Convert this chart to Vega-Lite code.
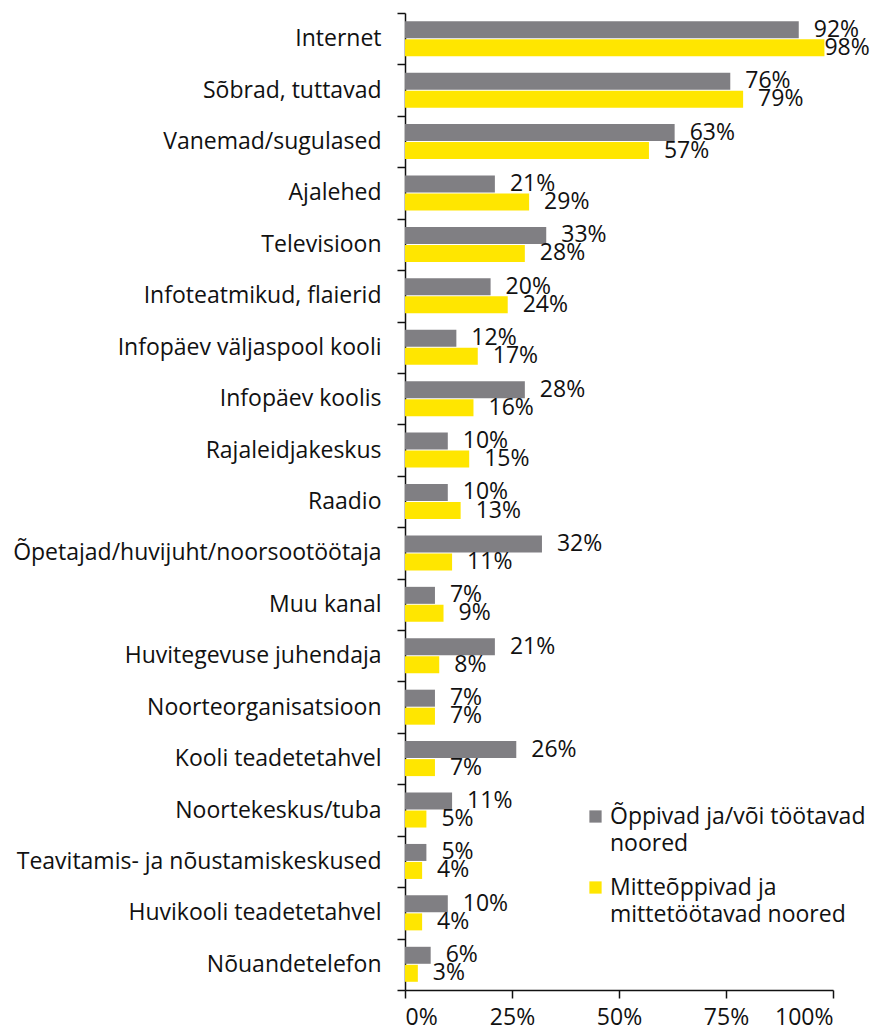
{
  "$schema": "https://vega.github.io/schema/vega-lite/v6.json",
  "width": 428,
  "height": 977,
  "autosize": {"type": "none"},
  "padding": {"left": 405, "top": 13, "right": 41, "bottom": 42},
  "background": "white",
  "config": {
    "view": {"stroke": null},
    "font": "Open Sans",
    "axis": {"labelFont": "Open Sans", "labelColor": "#111", "domainColor": "#111", "tickColor": "#111", "domainWidth": 1.5, "tickWidth": 1.5, "grid": false, "title": null},
    "legend": {"labelFont": "Open Sans", "labelColor": "#111"},
    "style": {"guide-label": {"lineHeight": 27}}
  },
  "data": {
    "values": [
      {"cat": "Internet", "group": "Õppivad ja/või töötavad noored", "pct": 92, "label": "92%"},
      {"cat": "Internet", "group": "Mitteõppivad ja mittetöötavad noored", "pct": 98, "label": "98%"},
      {"cat": "Sõbrad, tuttavad", "group": "Õppivad ja/või töötavad noored", "pct": 76, "label": "76%"},
      {"cat": "Sõbrad, tuttavad", "group": "Mitteõppivad ja mittetöötavad noored", "pct": 79, "label": "79%"},
      {"cat": "Vanemad/sugulased", "group": "Õppivad ja/või töötavad noored", "pct": 63, "label": "63%"},
      {"cat": "Vanemad/sugulased", "group": "Mitteõppivad ja mittetöötavad noored", "pct": 57, "label": "57%"},
      {"cat": "Ajalehed", "group": "Õppivad ja/või töötavad noored", "pct": 21, "label": "21%"},
      {"cat": "Ajalehed", "group": "Mitteõppivad ja mittetöötavad noored", "pct": 29, "label": "29%"},
      {"cat": "Televisioon", "group": "Õppivad ja/või töötavad noored", "pct": 33, "label": "33%"},
      {"cat": "Televisioon", "group": "Mitteõppivad ja mittetöötavad noored", "pct": 28, "label": "28%"},
      {"cat": "Infoteatmikud, flaierid", "group": "Õppivad ja/või töötavad noored", "pct": 20, "label": "20%"},
      {"cat": "Infoteatmikud, flaierid", "group": "Mitteõppivad ja mittetöötavad noored", "pct": 24, "label": "24%"},
      {"cat": "Infopäev väljaspool kooli", "group": "Õppivad ja/või töötavad noored", "pct": 12, "label": "12%"},
      {"cat": "Infopäev väljaspool kooli", "group": "Mitteõppivad ja mittetöötavad noored", "pct": 17, "label": "17%"},
      {"cat": "Infopäev koolis", "group": "Õppivad ja/või töötavad noored", "pct": 28, "label": "28%"},
      {"cat": "Infopäev koolis", "group": "Mitteõppivad ja mittetöötavad noored", "pct": 16, "label": "16%"},
      {"cat": "Rajaleidjakeskus", "group": "Õppivad ja/või töötavad noored", "pct": 10, "label": "10%"},
      {"cat": "Rajaleidjakeskus", "group": "Mitteõppivad ja mittetöötavad noored", "pct": 15, "label": "15%"},
      {"cat": "Raadio", "group": "Õppivad ja/või töötavad noored", "pct": 10, "label": "10%"},
      {"cat": "Raadio", "group": "Mitteõppivad ja mittetöötavad noored", "pct": 13, "label": "13%"},
      {"cat": "Õpetajad/huvijuht/noorsootöötaja", "group": "Õppivad ja/või töötavad noored", "pct": 32, "label": "32%"},
      {"cat": "Õpetajad/huvijuht/noorsootöötaja", "group": "Mitteõppivad ja mittetöötavad noored", "pct": 11, "label": "11%"},
      {"cat": "Muu kanal", "group": "Õppivad ja/või töötavad noored", "pct": 7, "label": "7%"},
      {"cat": "Muu kanal", "group": "Mitteõppivad ja mittetöötavad noored", "pct": 9, "label": "9%"},
      {"cat": "Huvitegevuse juhendaja", "group": "Õppivad ja/või töötavad noored", "pct": 21, "label": "21%"},
      {"cat": "Huvitegevuse juhendaja", "group": "Mitteõppivad ja mittetöötavad noored", "pct": 8, "label": "8%"},
      {"cat": "Noorteorganisatsioon", "group": "Õppivad ja/või töötavad noored", "pct": 7, "label": "7%"},
      {"cat": "Noorteorganisatsioon", "group": "Mitteõppivad ja mittetöötavad noored", "pct": 7, "label": "7%"},
      {"cat": "Kooli teadetetahvel", "group": "Õppivad ja/või töötavad noored", "pct": 26, "label": "26%"},
      {"cat": "Kooli teadetetahvel", "group": "Mitteõppivad ja mittetöötavad noored", "pct": 7, "label": "7%"},
      {"cat": "Noortekeskus/tuba", "group": "Õppivad ja/või töötavad noored", "pct": 11, "label": "11%"},
      {"cat": "Noortekeskus/tuba", "group": "Mitteõppivad ja mittetöötavad noored", "pct": 5, "label": "5%"},
      {"cat": "Teavitamis- ja nõustamiskeskused", "group": "Õppivad ja/või töötavad noored", "pct": 5, "label": "5%"},
      {"cat": "Teavitamis- ja nõustamiskeskused", "group": "Mitteõppivad ja mittetöötavad noored", "pct": 4, "label": "4%"},
      {"cat": "Huvikooli teadetetahvel", "group": "Õppivad ja/või töötavad noored", "pct": 10, "label": "10%"},
      {"cat": "Huvikooli teadetetahvel", "group": "Mitteõppivad ja mittetöötavad noored", "pct": 4, "label": "4%"},
      {"cat": "Nõuandetelefon", "group": "Õppivad ja/või töötavad noored", "pct": 6, "label": "6%"},
      {"cat": "Nõuandetelefon", "group": "Mitteõppivad ja mittetöötavad noored", "pct": 3, "label": "3%"}
    ]
  },
  "encoding": {
    "y": {
      "field": "cat",
      "type": "nominal",
      "sort": ["Internet", "Sõbrad, tuttavad", "Vanemad/sugulased", "Ajalehed", "Televisioon", "Infoteatmikud, flaierid", "Infopäev väljaspool kooli", "Infopäev koolis", "Rajaleidjakeskus", "Raadio", "Õpetajad/huvijuht/noorsootöötaja", "Muu kanal", "Huvitegevuse juhendaja", "Noorteorganisatsioon", "Kooli teadetetahvel", "Noortekeskus/tuba", "Teavitamis- ja nõustamiskeskused", "Huvikooli teadetetahvel", "Nõuandetelefon"],
      "scale": {"paddingInner": 0, "paddingOuter": 0},
      "axis": {"tickBand": "extent", "tickSize": 8, "labelFontSize": 23, "labelPadding": 16, "labelLimit": 400, "labelExpr": "datum.label == 'Televisioon' ? 'Televisioon\u2002' : datum.label"}
    },
    "yOffset": {
      "field": "group",
      "type": "nominal",
      "sort": ["Õppivad ja/või töötavad noored", "Mitteõppivad ja mittetöötavad noored"],
      "scale": {"paddingInner": 0.056, "paddingOuter": 0.456}
    }
  },
  "layer": [
    {
      "mark": {"type": "bar"},
      "encoding": {
        "x": {
          "field": "pct",
          "type": "quantitative",
          "scale": {"domain": [0, 100]},
          "axis": {"values": [0, 25, 50, 75, 100], "labelExpr": "datum.value + '%'", "tickSize": 8, "labelFontSize": 23, "labelPadding": 8}
        },
        "color": {
          "field": "group",
          "type": "nominal",
          "sort": ["Õppivad ja/või töötavad noored", "Mitteõppivad ja mittetöötavad noored"],
          "scale": {"domain": ["Õppivad ja/või töötavad noored", "Mitteõppivad ja mittetöötavad noored"], "range": ["#807F83", "#FFE600"]},
          "legend": {
            "title": null,
            "orient": "none",
            "legendX": 179,
            "legendY": 792,
            "symbolType": "square",
            "symbolSize": 150,
            "symbolStrokeWidth": 0,
            "labelFontSize": 23,
            "labelOffset": 3,
            "labelLimit": 400,
            "rowPadding": 20,
            "labelExpr": "datum.label == 'Õppivad ja/või töötavad noored' ? ['Õppivad ja/või töötavad', 'noored'] : ['Mitteõppivad ja', 'mittetöötavad noored']"
          }
        }
      }
    },
    {
      "transform": [{"filter": "datum.pct < 95"}],
      "mark": {"type": "text", "align": "left", "baseline": "middle", "dx": 15, "fontSize": 23, "color": "#111"},
      "encoding": {
        "x": {"field": "pct", "type": "quantitative"},
        "text": {"field": "label", "type": "nominal"}
      }
    },
    {
      "transform": [{"filter": "datum.pct >= 95"}],
      "mark": {"type": "text", "align": "left", "baseline": "middle", "dx": 0, "fontSize": 23, "color": "#111"},
      "encoding": {
        "x": {"field": "pct", "type": "quantitative"},
        "text": {"field": "label", "type": "nominal"}
      }
    }
  ]
}
